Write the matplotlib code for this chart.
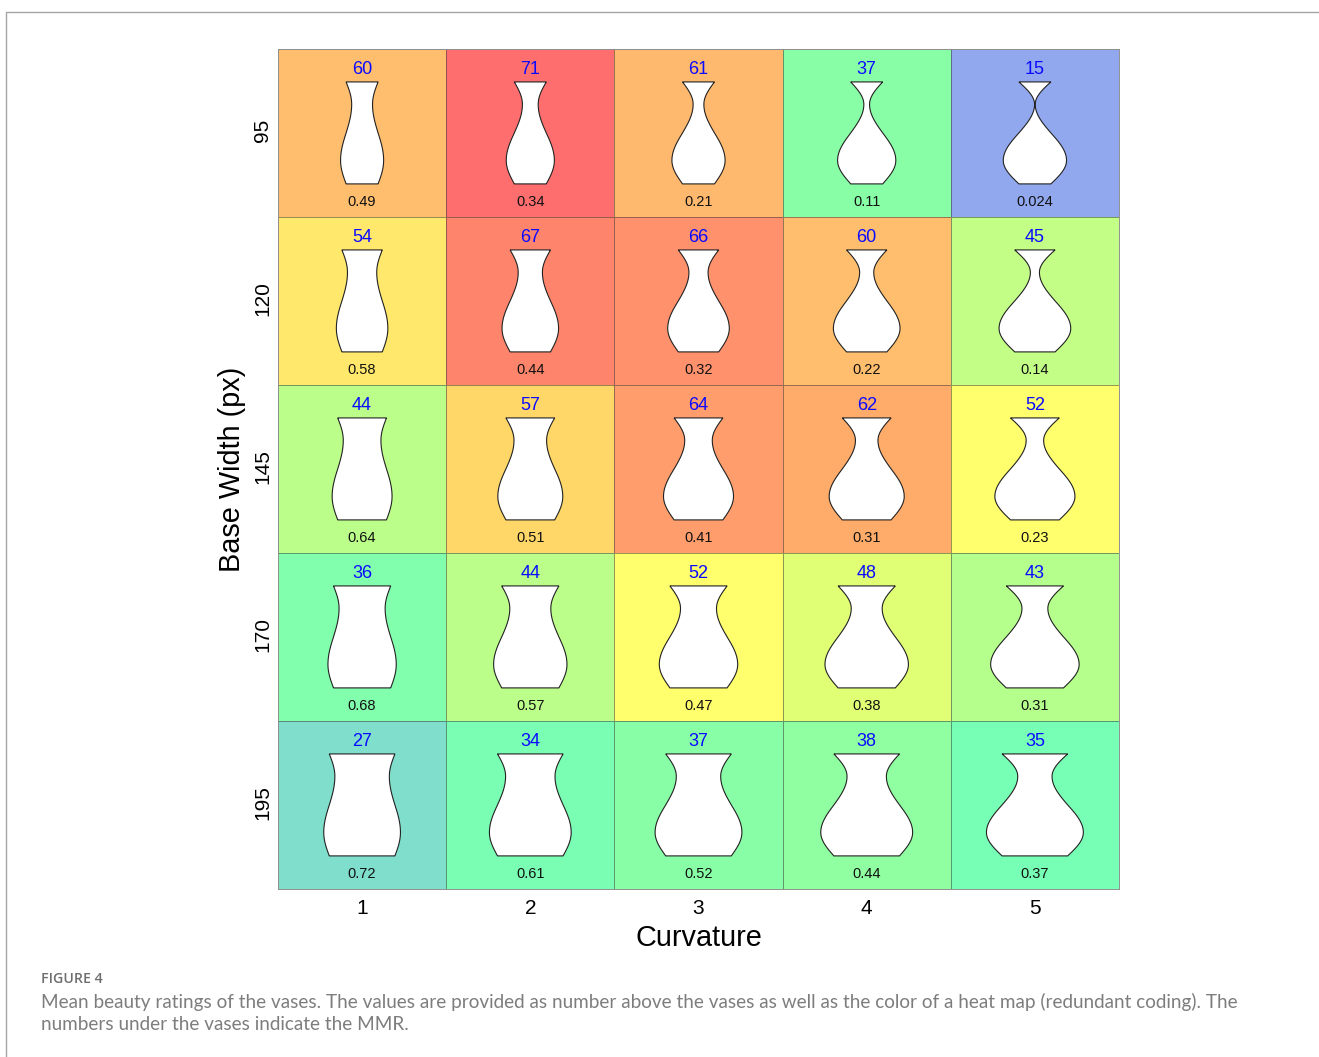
import numpy as np
import matplotlib
matplotlib.use("Agg")
import matplotlib.pyplot as plt
from matplotlib.colors import LinearSegmentedColormap, Normalize
from matplotlib.lines import Line2D
from matplotlib.transforms import ScaledTranslation

W, H = 1319, 1057

curvature = [1, 2, 3, 4, 5]
base_width = [95, 120, 145, 170, 195]

ratings = np.array([
    [60, 71, 61, 37, 15],
    [54, 67, 66, 60, 45],
    [44, 57, 64, 62, 52],
    [36, 44, 52, 48, 43],
    [27, 34, 37, 38, 35],
])
mmr = [
    ["0.49", "0.34", "0.21", "0.11", "0.024"],
    ["0.58", "0.44", "0.32", "0.22", "0.14"],
    ["0.64", "0.51", "0.41", "0.31", "0.23"],
    ["0.68", "0.57", "0.47", "0.38", "0.31"],
    ["0.72", "0.61", "0.52", "0.44", "0.37"],
]

# colours picked off the heat map, rating -> colour
color_ratings = [15, 27, 34, 35, 37, 43, 45, 48, 52, 54, 57, 60, 61, 62, 64, 66, 67, 71]
color_values = ["#91a8ee", "#80dfcd", "#7affb4", "#78ffb6", "#88ffa6", "#b4ff8c", "#c2ff88",
                "#e2ff75", "#ffff6c", "#ffe86b", "#ffd869", "#ffbe6e", "#ffbb6e", "#ffab6a",
                "#ff9e6c", "#ff946c", "#ff846c", "#ff6e6e"]

low, high = color_ratings[0], color_ratings[-1]
stops = [(r - low) / (high - low) for r in color_ratings]
cmap = LinearSegmentedColormap.from_list("heat", list(zip(stops, color_values)))

plt.rcParams["font.family"] = ["Liberation Sans", "DejaVu Sans"]

fig = plt.figure(figsize=(W / 100, H / 100), dpi=100)
ax = fig.add_axes([278 / W, 1 - 889 / H, 841 / W, 840 / H])

x_edges = np.arange(len(curvature) + 1) + 0.5
y_edges = np.arange(len(base_width) + 1) + 0.5
ax.pcolormesh(x_edges, y_edges, ratings, cmap=cmap, norm=Normalize(low, high),
              edgecolors=(0.2, 0.2, 0.2, 0.5), linewidth=0.55)
ax.set_xlim(0.5, 5.5)
ax.set_ylim(5.5, 0.5)

# vase outline: half width from the base width, sine bulge from the curvature
t = np.linspace(0, 1, 200)
phase = np.interp(t, [0, 0.22, 0.5, 0.77, 1], [0, 0.25, 0.5, 0.75, 1])
for row, bw in enumerate(base_width):
    for col, c in enumerate(curvature):
        half = bw / 1000
        amp = 0.018 + 0.015 * c
        profile = half - amp * np.sin(2 * np.pi * phase)
        y = row + 1 - 0.304 + 0.607 * t
        xs = np.r_[col + 1 - profile, (col + 1 + profile)[::-1], col + 1 - profile[0]]
        ys = np.r_[y, y[::-1], y[0]]
        ax.fill(xs, ys, facecolor="white", edgecolor="#222222", linewidth=0.8, zorder=3)
        ax.text(col + 1, row + 1 - 0.376, str(ratings[row][col]), color="#0a0aff",
                fontsize=13, ha="center", va="center", zorder=4)
        ax.text(col + 1, row + 1 + 0.41, mmr[row][col], color="#111111",
                fontsize=10.5, ha="center", va="center", zorder=4)

ax.set_xticks(range(1, 6))
ax.set_xticklabels(curvature, fontsize=15)
ax.set_yticks(range(1, 6))
ax.set_yticklabels(base_width, fontsize=15, rotation=90, va="center")
ax.tick_params(axis="x", length=0, pad=7)
ax.tick_params(axis="y", length=0, pad=4)
# rotated labels sit a little low, nudge them up
nudge = ScaledTranslation(0, 2.5 / 100, fig.dpi_scale_trans)
for lab in ax.get_yticklabels():
    lab.set_transform(lab.get_transform() + nudge)
for s in ax.spines.values():
    s.set_color("#909090")
    s.set_linewidth(0.7)

fig.text(698.5 / W, 1 - 938 / H, "Curvature", fontsize=20.8, ha="center", va="center")
fig.text(232 / W, 1 - 469 / H, "Base Width (px)", fontsize=20.8, rotation=90, ha="center", va="center")

# page frame and caption
fig.add_artist(Line2D([6 / W, 6 / W, 1], [0, 1 - 12 / H, 1 - 12 / H], color="#a5a5a5", lw=1))
fig.text(41 / W, 1 - 979 / H, "FIGURE 4", fontsize=10.2, color="#6e6e6e", family="Open Sans",
         weight="semibold", ha="left", va="center")
fig.text(41 / W, 1 - 1002 / H,
         "Mean beauty ratings of the vases. The values are provided as number above the vases as well as the color of a heat map (redundant coding). The",
         fontsize=13.6, color="#7d7d7d", family="Lato", ha="left", va="center")
fig.text(41 / W, 1 - 1025 / H, "numbers under the vases indicate the MMR.",
         fontsize=13.6, color="#7d7d7d", family="Lato", ha="left", va="center")

fig.savefig("out.png", dpi=100)
